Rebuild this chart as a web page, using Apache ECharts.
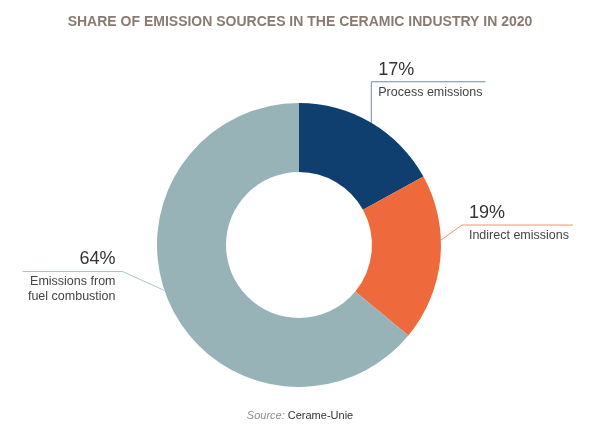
<!DOCTYPE html>
<html>
<head>
<meta charset="utf-8">
<script src="https://cdn.jsdelivr.net/npm/echarts@6/dist/echarts.min.js"></script>
<style>
html,body{margin:0;padding:0;background:#fff;}
#chart{width:600px;height:431px;}
</style>
</head>
<body>
<div id="chart"></div>
<script>
// Data
var categories = ['Process emissions', 'Indirect emissions', 'Emissions from\nfuel combustion'];
var shares = [17, 19, 64];
var percentLabels = ['17%', '19%', '64%'];

// Styles
var sliceColors = ['#0f3f6e', '#ee6a3c', '#97b3b8'];
var guideColors = ['#6f8cab', '#f2906d', '#a9c3c7'];
var CX = 299, CY = 245, R_IN = 73, R_OUT = 142;

// Guide geometry: anchor angle on outer arc (deg clockwise from top),
// elbow offset from anchor, and horizontal run length (signed).
var guides = [
  { angle: 30.6, elbow: [0, -41], run: 114 },
  { angle: 88, elbow: [21, -15], run: 111 },
  { angle: 251.3, elbow: [-42, -19], run: -100 }
];

var chart = echarts.init(document.getElementById('chart'));
var data = categories.map(function (c, i) {
  return {
    name: c,
    value: shares[i],
    itemStyle: { color: sliceColors[i] },
    labelLine: { lineStyle: { color: guideColors[i], width: 1 } }
  };
});

chart.setOption({
  animation: false,
  title: [{
    text: 'SHARE OF EMISSION SOURCES IN THE CERAMIC INDUSTRY IN 2020',
    left: 'center',
    top: 10,
    textStyle: { fontFamily: 'Liberation Sans', fontWeight: 'bold', fontSize: 14, color: '#8a7b72' }
  }, {
    text: '{s|Source:} {c|Cerame-Unie}',
    left: 'center',
    top: 405,
    textStyle: {
      fontWeight: 'normal',
      fontSize: 11,
      rich: {
        s: { fontFamily: 'Liberation Sans', fontStyle: 'italic', fontWeight: 'normal', fontSize: 11, color: '#8c8c8c' },
        c: { fontFamily: 'Liberation Sans', fontWeight: 'normal', fontSize: 11, color: '#333' }
      }
    }
  }],
  series: [{
    type: 'pie',
    center: [CX, CY],
    radius: [R_IN, R_OUT],
    startAngle: 90,
    clockwise: true,
    avoidLabelOverlap: false,
    data: data,
    label: {
      show: true,
      position: 'outside',
      formatter: function (p) {
        return '{p|' + percentLabels[p.dataIndex] + '}\n{n|' + p.name.split('\n').join('}\n{n|') + '}';
      },
      rich: {
        p: { fontFamily: 'Liberation Sans', fontSize: 18, lineHeight: 30, color: '#333' },
        n: { fontFamily: 'Liberation Sans', fontSize: 12.5, lineHeight: 15, color: '#444' }
      }
    },
    labelLine: { show: true, length: 20, length2: 60, smooth: false },
    labelLayout: function (params) {
      var g = guides[params.dataIndex];
      var a = g.angle * Math.PI / 180;
      var x0 = CX + R_OUT * Math.sin(a);
      var y0 = CY - R_OUT * Math.cos(a);
      var x1 = x0 + g.elbow[0];
      var y1 = y0 + g.elbow[1];
      var x2 = x1 + g.run;
      var right = g.run > 0;
      return {
        x: right ? x1 + 7 : x1 - 7,
        y: y1 - 27,
        align: right ? 'left' : 'right',
        verticalAlign: 'top',
        labelLinePoints: [[x0, y0], [x1, y1], [x2, y1]]
      };
    }
  }]
});
</script>
</body>
</html>
